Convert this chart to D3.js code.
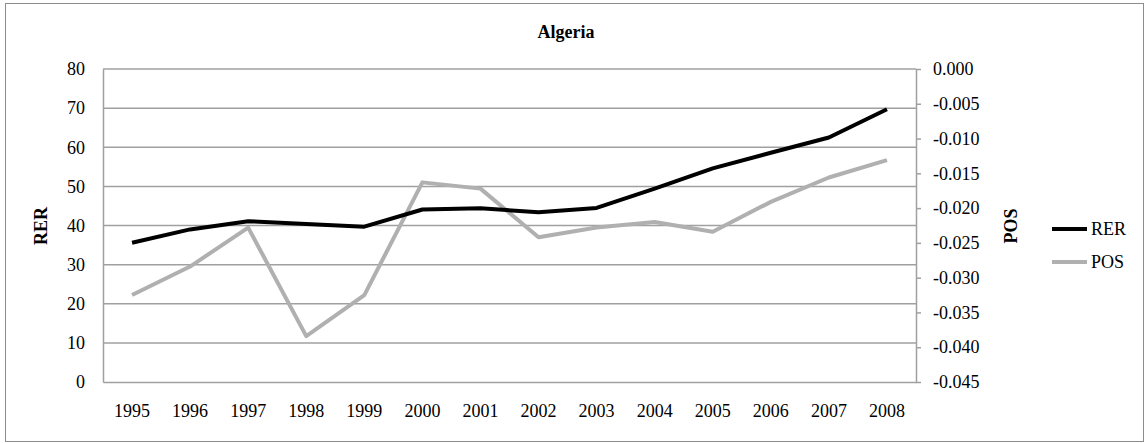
<!DOCTYPE html>
<html>
<head>
<meta charset="utf-8">
<script src="https://cdn.jsdelivr.net/npm/d3@7"></script>
<style>
  body { margin: 0; background: #fff; }
</style>
</head>
<body>
<div id="chart"></div>
<script>
// data
var years = ["1995", "1996", "1997", "1998", "1999", "2000", "2001", "2002", "2003", "2004", "2005", "2006", "2007", "2008"];
var rer = [35.6, 39.0, 41.1, 40.4, 39.7, 44.1, 44.4, 43.4, 44.5, 49.4, 54.6, 58.6, 62.5, 69.7];
var pos = [-0.0325, -0.0284, -0.0228, -0.0384, -0.0325, -0.0163, -0.0172, -0.0242, -0.0228, -0.0220, -0.0234, -0.0191, -0.0156, -0.0131];
var leftTicks = [0, 10, 20, 30, 40, 50, 60, 70, 80];
var rightTicks = [0, -0.005, -0.010, -0.015, -0.020, -0.025, -0.030, -0.035, -0.040, -0.045];

var serif = "'Liberation Serif', 'Times New Roman', Times, serif";
var W = 1144, H = 443;
var margin = { top: 69, right: 228, bottom: 61, left: 103 },
  width = W - margin.left - margin.right,
  height = H - margin.top - margin.bottom;

var root = d3.select("#chart")
  .append("svg")
  .attr("width", W)
  .attr("height", H)
  .attr("font-family", serif);

// outer chart border
root.append("rect")
  .attr("x", 5.5).attr("y", 3.5)
  .attr("width", 1138).attr("height", 438)
  .attr("fill", "#fff")
  .attr("stroke", "#8c8c8c")
  .attr("stroke-width", 1);

var svg = root.append("g")
  .attr("transform", "translate(" + margin.left + "," + margin.top + ")");

// scales
var x = d3.scaleBand().domain(years).range([0, width]).padding(0);
var y = d3.scaleLinear().domain([0, 80]).range([height, 0]);
var y2 = d3.scaleLinear().domain([-0.045, 0]).range([height, 0]);

// gridlines
svg.selectAll("gridline")
  .data(leftTicks.filter(function (d) { return d > 0; }))
  .enter()
  .append("line")
  .attr("x1", 0).attr("x2", width)
  .attr("y1", function (d) { return y(d); })
  .attr("y2", function (d) { return y(d); })
  .attr("stroke", "#a0a0a0")
  .attr("stroke-width", 1.5);

function styleAxis(g) {
  g.attr("font-family", serif).attr("font-size", 18);
  g.select(".domain").attr("stroke", "#a0a0a0").attr("stroke-width", 1.5);
  g.selectAll(".tick line").attr("stroke", "#a0a0a0").attr("stroke-width", 1.5);
  g.selectAll("text").style("font-family", serif).style("font-size", "18px").attr("fill", "#000");
}

// left axis
var gl = svg.append("g")
  .call(d3.axisLeft(y).tickValues(leftTicks).tickSize(0).tickPadding(18));
styleAxis(gl);

// right axis
var gr = svg.append("g")
  .attr("transform", "translate(" + width + ",0)")
  .call(d3.axisRight(y2).tickValues(rightTicks).tickSize(5).tickSizeOuter(0).tickPadding(12)
    .tickFormat(function (d) { return d.toFixed(3); }));
styleAxis(gr);

// bottom axis
var gb = svg.append("g")
  .attr("transform", "translate(0," + height + ")")
  .call(d3.axisBottom(x).tickSize(0).tickPadding(22));
styleAxis(gb);

// lines
var lineRer = d3.line()
  .x(function (d, i) { return x(years[i]) + x.bandwidth() / 2; })
  .y(function (d) { return y(d); });
var linePos = d3.line()
  .x(function (d, i) { return x(years[i]) + x.bandwidth() / 2; })
  .y(function (d) { return y2(d); });

svg.append("path")
  .datum(pos)
  .attr("d", linePos)
  .attr("fill", "none")
  .attr("stroke", "#b0b0b0")
  .attr("stroke-width", 4)
  .attr("stroke-linejoin", "round");

svg.append("path")
  .datum(rer)
  .attr("d", lineRer)
  .attr("fill", "none")
  .attr("stroke", "#000")
  .attr("stroke-width", 4)
  .attr("stroke-linejoin", "round");

// title
root.append("text")
  .attr("x", 566)
  .attr("y", 38)
  .attr("text-anchor", "middle")
  .style("font-family", serif)
  .style("font-size", "18px")
  .style("font-weight", "bold")
  .text("Algeria");

// axis titles
root.append("text")
  .attr("transform", "translate(47,226) rotate(-90)")
  .attr("text-anchor", "middle")
  .style("font-family", serif)
  .style("font-size", "18px")
  .style("font-weight", "bold")
  .text("RER");

root.append("text")
  .attr("transform", "translate(1017,226) rotate(-90)")
  .attr("text-anchor", "middle")
  .style("font-family", serif)
  .style("font-size", "18px")
  .style("font-weight", "bold")
  .text("POS");

// legend
var legend = [{ name: "RER", color: "#000", y: 229 }, { name: "POS", color: "#b0b0b0", y: 262 }];
legend.forEach(function (d) {
  root.append("line")
    .attr("x1", 1052).attr("x2", 1087)
    .attr("y1", d.y).attr("y2", d.y)
    .attr("stroke", d.color)
    .attr("stroke-width", 4);
  root.append("text")
    .attr("x", 1091)
    .attr("y", d.y + 6)
    .style("font-family", serif)
    .style("font-size", "18px")
    .text(d.name);
});
</script>
</body>
</html>
